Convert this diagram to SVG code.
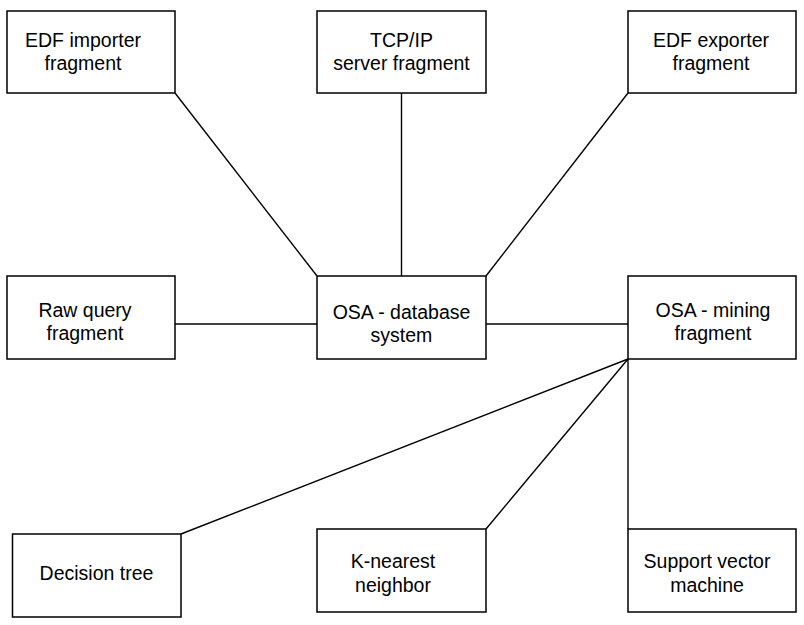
<svg xmlns="http://www.w3.org/2000/svg" width="804" height="625" viewBox="0 0 804 625">
<style>
.box{fill:#fff;stroke:#000;stroke-width:1.5}
.lbl{font-family:"Liberation Sans",Arial,sans-serif;font-size:19.5px;fill:#000;text-anchor:middle}
.edge{stroke:#000;stroke-width:1.4;fill:none}
</style>
<rect width="804" height="625" fill="#fff"/>
<g id="connectors">
<line class="edge" x1="175" y1="93" x2="317" y2="276"/>
<line class="edge" x1="401.5" y1="93" x2="401.5" y2="276"/>
<line class="edge" x1="628" y1="93" x2="486" y2="276"/>
<line class="edge" x1="175" y1="324" x2="317" y2="324"/>
<line class="edge" x1="486" y1="324" x2="628" y2="324"/>
<line class="edge" x1="628" y1="359" x2="181" y2="534"/>
<line class="edge" x1="628" y1="359" x2="486" y2="529"/>
<line class="edge" x1="628" y1="359" x2="628" y2="529"/>
</g>
<g id="edf-importer">
<rect class="box" x="7" y="11" width="168" height="82"/>
<text class="lbl" x="83" y="47">EDF importer</text>
<text class="lbl" x="83" y="70">fragment</text>
</g>
<g id="tcpip">
<rect class="box" x="317" y="11" width="169" height="82"/>
<text class="lbl" x="401.5" y="47">TCP/IP</text>
<text class="lbl" x="401.5" y="70">server fragment</text>
</g>
<g id="edf-exporter">
<rect class="box" x="628" y="11" width="168" height="82"/>
<text class="lbl" x="711" y="47">EDF exporter</text>
<text class="lbl" x="711" y="70">fragment</text>
</g>
<g id="raw-query">
<rect class="box" x="7" y="276" width="168" height="83"/>
<text class="lbl" x="85" y="317">Raw query</text>
<text class="lbl" x="85" y="340">fragment</text>
</g>
<g id="osa-db">
<rect class="box" x="317" y="276" width="169" height="83"/>
<text class="lbl" x="401.5" y="319">OSA - database</text>
<text class="lbl" x="401.5" y="342">system</text>
</g>
<g id="osa-mining">
<rect class="box" x="628" y="276" width="168" height="83"/>
<text class="lbl" x="713" y="317">OSA - mining</text>
<text class="lbl" x="713" y="340">fragment</text>
</g>
<g id="decision-tree">
<rect class="box" x="12.5" y="534" width="168.5" height="83"/>
<text class="lbl" x="96.5" y="580">Decision tree</text>
</g>
<g id="knn">
<rect class="box" x="317" y="529" width="169" height="83"/>
<text class="lbl" x="393" y="568">K-nearest</text>
<text class="lbl" x="393" y="592">neighbor</text>
</g>
<g id="svm">
<rect class="box" x="628" y="529" width="168" height="83"/>
<text class="lbl" x="707" y="568">Support vector</text>
<text class="lbl" x="707" y="592">machine</text>
</g>
</svg>
